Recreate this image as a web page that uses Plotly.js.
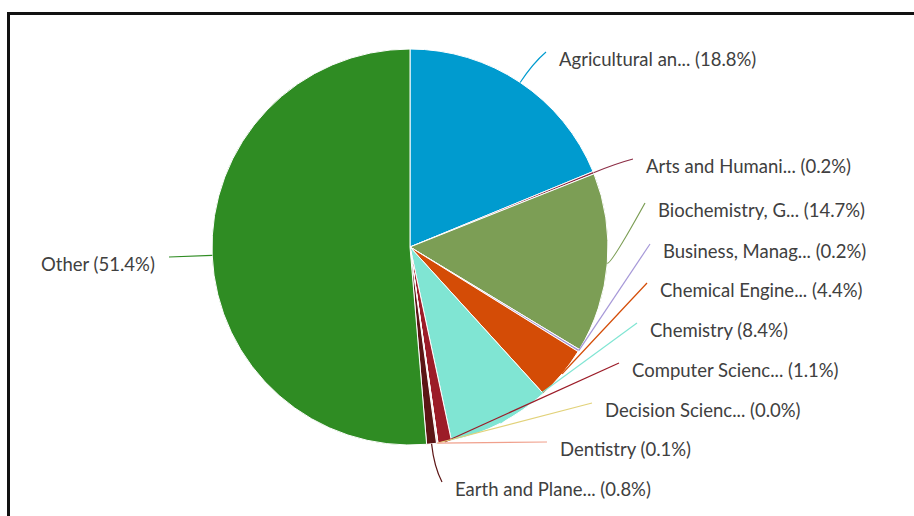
<!DOCTYPE html>
<html>
<head>
<meta charset="utf-8">
<script src="https://cdn.plot.ly/plotly-3.0.1.min.js"></script>
<style>
  html, body { margin: 0; padding: 0; background: #ffffff; }
  #chart { width: 914px; height: 516px; }
</style>
</head>
<body>
<div id="chart"></div>
<script>
// ---- data ----
const categories = ['Agricultural an...', 'Arts and Humani...', 'Biochemistry, G...', 'Business, Manag...',
  'Chemical Engine...', 'Chemistry', 'Computer Scienc...', 'Decision Scienc...', 'Dentistry',
  'Earth and Plane...', 'Other'];
const shares = [18.8, 0.2, 14.7, 0.2, 4.4, 8.4, 1.1, 0.02, 0.1, 0.8, 51.4];

// ---- styling / layout constants ----
const sliceColors = ['#009bcf', '#8c2d45', '#7c9e55', '#a698d8', '#d44c06', '#80e5d3',
  '#9c1c28', '#e2d27a', '#f0a08c', '#5c1515', '#2f8c23'];
// connector end points (pixels) next to each label
const labelPoints = [[546, 52], [633, 159], [645, 203], [650, 244], [647, 283], [637, 323],
  [619, 363], [592, 403], [547, 442], [442, 482], [169, 257]];
const W = 914, H = 516;
const cx = 410, cy = 247, R = 198;

const total = shares.reduce((a, b) => a + b, 0);
const shapes = [];
const annotations = [];
let cum = 0;
shares.forEach((v, i) => {
  const mid = (cum + v / 2) / total * 2 * Math.PI;
  cum += v;
  const dx = Math.sin(mid), dy = -Math.cos(mid);
  const tx = cx + R * dx, ty = cy + R * dy;
  const [lx, ly] = labelPoints[i];
  const ex = lx - tx, ey = ly - ty;
  const dist = Math.hypot(ex, ey);
  const dot = dx * ex + dy * ey;
  const cosA = dot / dist;
  const k = Math.max(0, 0.6 * dot * cosA * cosA);
  const qx = tx + dx * k, qy = ty + dy * k;
  const path = `M ${tx} ${ty} Q ${qx} ${qy} ${lx} ${ly}`;
  shapes.push({ type: 'path', xref: 'x', yref: 'y', path: path,
    line: { color: sliceColors[i], width: 1.2 }, layer: 'above' });
  const left = lx < cx;
  annotations.push({
    xref: 'x', yref: 'y',
    x: left ? lx - 12 : lx + 11, y: ly + 7,
    xanchor: left ? 'right' : 'left', yanchor: 'middle',
    text: categories[i] + ' (' + v.toFixed(1) + '%)',
    showarrow: false,
    font: { family: 'Lato, "Open Sans", sans-serif', size: 18.5, color: '#404040' }
  });
});

// frame lines (top and left)
shapes.push({ type: 'line', xref: 'x', yref: 'y', x0: 8.5, y0: H, x1: 8.5, y1: 13.5,
  line: { color: '#111111', width: 3 } });
shapes.push({ type: 'line', xref: 'x', yref: 'y', x0: 7, y0: 13.5, x1: W, y1: 13.5,
  line: { color: '#111111', width: 3 } });

const trace = {
  type: 'pie',
  values: shares,
  labels: categories,
  sort: false,
  direction: 'clockwise',
  rotation: 0,
  textinfo: 'none',
  hoverinfo: 'label+percent',
  marker: { colors: sliceColors, line: { color: '#ffffff', width: 1 } },
  domain: { x: [(cx - R) / W, (cx + R) / W], y: [1 - (cy + R) / H, 1 - (cy - R) / H] },
  showlegend: false
};

const layout = {
  width: W, height: H,
  margin: { l: 0, r: 0, t: 0, b: 0 },
  paper_bgcolor: '#ffffff',
  plot_bgcolor: 'rgba(0,0,0,0)',
  showlegend: false,
  xaxis: { range: [0, W], visible: false, fixedrange: true },
  yaxis: { range: [H, 0], visible: false, fixedrange: true },
  shapes: shapes,
  annotations: annotations
};

Plotly.newPlot('chart', [trace], layout, { displayModeBar: false, staticPlot: true });
</script>
</body>
</html>
